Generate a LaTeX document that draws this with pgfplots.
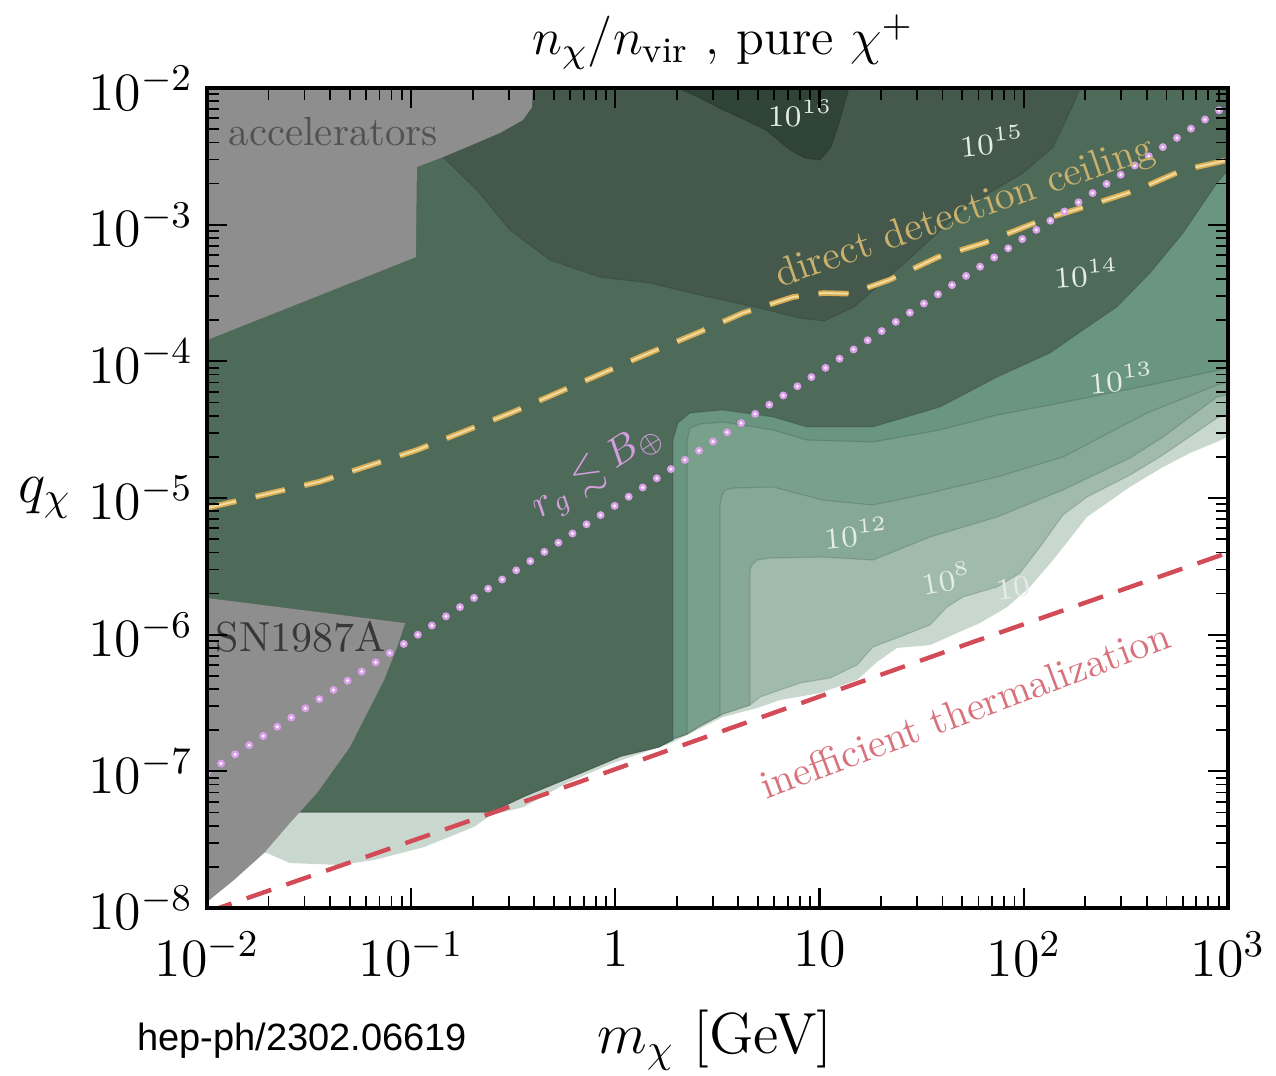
\RequirePackage{fix-cm}
\documentclass[border=0pt]{standalone}
\usepackage{amssymb}
\usepackage{pgfplots}
\pgfplotsset{compat=1.18}
\usepackage{fontspec}
\newfontfamily\hepfont{Liberation Sans}
\definecolor{c0}{RGB}{200,216,206}
\definecolor{c1}{RGB}{160,186,171}
\definecolor{c2}{RGB}{134,169,149}
\definecolor{c3}{RGB}{120,160,138}
\definecolor{c4}{RGB}{106,149,128}
\definecolor{c5}{RGB}{78,106,89}
\definecolor{c6}{RGB}{68,89,75}
\definecolor{c7}{RGB}{47,67,55}
\definecolor{grayreg}{RGB}{142,142,142}
\definecolor{goldline}{RGB}{218,173,84}
\definecolor{goldcore}{RGB}{240,220,160}
\definecolor{goldtext}{RGB}{201,176,108}
\definecolor{redline}{RGB}{210,75,87}
\definecolor{redtext}{RGB}{216,114,124}
\definecolor{violine}{RGB}{220,160,234}
\definecolor{viotext}{RGB}{213,157,223}
\definecolor{clab}{RGB}{228,236,230}
\begin{document}
\begin{tikzpicture}
\path[use as bounding box] (-51.75pt,-41.75pt) rectangle (267.25pt,227pt);
\begin{axis}[
  at={(0,0)}, anchor=south west,
  width=255.25pt, height=205pt, scale only axis,
  xmin=-2, xmax=3, ymin=-8, ymax=-2,
  axis on top,
  xtick={-2,-1,0,1,2,3},
  xticklabels={$10^{-2}$,$10^{-1}$,$1$,$10$,$10^{2}$,$10^{3}$},
  ytick={-8,-7,-6,-5,-4,-3,-2},
  yticklabels={$10^{-8}$,$10^{-7}$,$10^{-6}$,$10^{-5}$,$10^{-4}$,$10^{-3}$,$10^{-2}$},
  minor xtick={-1.69897,-1.52288,-1.39794,-1.30103,-1.22185,-1.15490,-1.09691,-1.04576,
    -0.69897,-0.52288,-0.39794,-0.30103,-0.22185,-0.15490,-0.09691,-0.04576,
    0.30103,0.47712,0.60206,0.69897,0.77815,0.84510,0.90309,0.95424,
    1.30103,1.47712,1.60206,1.69897,1.77815,1.84510,1.90309,1.95424,
    2.30103,2.47712,2.60206,2.69897,2.77815,2.84510,2.90309,2.95424},
  minor ytick={-7.69897,-7.52288,-7.39794,-7.30103,-7.22185,-7.15490,-7.09691,-7.04576,
    -6.69897,-6.52288,-6.39794,-6.30103,-6.22185,-6.15490,-6.09691,-6.04576,
    -5.69897,-5.52288,-5.39794,-5.30103,-5.22185,-5.15490,-5.09691,-5.04576,
    -4.69897,-4.52288,-4.39794,-4.30103,-4.22185,-4.15490,-4.09691,-4.04576,
    -3.69897,-3.52288,-3.39794,-3.30103,-3.22185,-3.15490,-3.09691,-3.04576,
    -2.69897,-2.52288,-2.39794,-2.30103,-2.22185,-2.15490,-2.09691,-2.04576},
  tick align=inside,
  major tick length=5pt, minor tick length=3pt,
  every tick/.style={black, line width=0.55pt},
  every minor tick/.style={black, line width=0.45pt},
  axis line style={line width=0.8pt},
  tick label style={font=\fontsize{13.5}{16}\selectfont},
  xticklabel style={yshift=-2.5pt},
  xlabel={$m_\chi$ [GeV]},
  xlabel style={at={(axis description cs:0.4976,-0.161)}, anchor=center, font=\fontsize{14.5}{17}\selectfont},
  ylabel={$q_\chi$},
  ylabel style={rotate=-90, at={(axis description cs:-0.1587,0.5)}, anchor=center, font=\fontsize{14.5}{17}\selectfont},
]
% lightest band (outer boundary, above white)
\addplot[fill=c0, draw=none] coordinates {
(-2,-2) (3,-2) (3,-4.554) (2.814,-4.671) (2.682,-4.773) (2.520,-4.919) (2.309,-5.139) (2.143,-5.454) (2.030,-5.651) (1.918,-5.798) (1.785,-5.915) (1.673,-5.988) (1.541,-6.076) (1.379,-6.097) (1.281,-6.200) (1.183,-6.332) (1.002,-6.427) (0.806,-6.478) (0.693,-6.537) (0.527,-6.602) (0.272,-6.793) (-0.012,-6.939) (-0.237,-7.085) (-0.448,-7.261) (-0.609,-7.319) (-0.693,-7.407) (-0.937,-7.554) (-1.182,-7.649) (-1.349,-7.685) (-1.594,-7.671) (-1.706,-7.598) (-2,-7.598)
} -- cycle;
% band 2
\addplot[fill=c1, draw=black, draw opacity=0.12, line width=0.3pt] coordinates {
(-2,-2) (3,-2) (3,-4.385) (2.946,-4.415) (2.682,-4.685) (2.520,-4.832) (2.309,-4.993) (2.192,-5.124) (2.079,-5.359) (1.981,-5.549) (1.869,-5.651) (1.702,-5.724) (1.624,-5.798) (1.541,-5.929) (1.379,-6.024) (1.261,-6.090) (1.183,-6.222) (1.051,-6.317) (0.904,-6.354) (0.806,-6.405) (0.708,-6.456) (0.659,-6.515) (0.527,-6.580) (0.414,-6.668) (0.351,-6.727) (0.292,-6.756) (0.213,-6.822) (0.027,-6.888) (-0.159,-7.005) (-0.443,-7.180) (-0.609,-7.297) (-2,-7.297)
} -- cycle;
% band 3
\addplot[fill=c2, draw=black, draw opacity=0.12, line width=0.3pt] coordinates {
(-2,-2) (3,-2) (3,-4.246) (2.946,-4.261) (2.682,-4.554) (2.520,-4.707) (2.192,-4.941) (1.869,-5.139) (1.541,-5.285) (1.261,-5.454) (1.017,-5.432) (0.757,-5.439) (0.693,-5.454) (0.669,-5.490) (0.659,-5.527) (0.659,-6.515) (0.527,-6.580) (0.414,-6.668) (0.351,-6.727) (0.292,-6.756) (0.213,-6.822) (0.027,-6.888) (-0.159,-7.005) (-0.443,-7.180) (-0.609,-7.297) (-2,-7.297)
} -- cycle;
% band 4
\addplot[fill=c3, draw=black, draw opacity=0.12, line width=0.3pt] coordinates {
(-2,-2) (3,-2) (3,-4.151) (2.946,-4.173) (2.603,-4.378) (2.192,-4.700) (1.869,-4.846) (1.541,-4.963) (1.261,-5.051) (1.017,-5.015) (0.772,-4.919) (0.576,-4.927) (0.537,-4.941) (0.522,-4.978) (0.512,-5.051) (0.512,-6.590) (0.414,-6.668) (0.351,-6.727) (0.292,-6.756) (0.213,-6.822) (0.027,-6.888) (-0.159,-7.005) (-0.443,-7.180) (-0.609,-7.297) (-2,-7.297)
} -- cycle;
% band 5
\addplot[fill=c4, draw=black, draw opacity=0.12, line width=0.3pt] coordinates {
(-2,-2) (3,-2) (3,-4.049) (2.618,-4.173) (2.373,-4.246) (2.128,-4.319) (1.869,-4.393) (1.590,-4.502) (1.261,-4.590) (0.938,-4.576) (0.772,-4.502) (0.527,-4.444) (0.414,-4.458) (0.365,-4.488) (0.351,-4.576) (0.351,-6.727) (0.292,-6.756) (0.213,-6.822) (0.027,-6.888) (-0.159,-7.005) (-0.443,-7.180) (-0.609,-7.297) (-2,-7.297)
} -- cycle;
% band 6 (main dark region)
\addplot[fill=c5, draw=black, draw opacity=0.12, line width=0.3pt] coordinates {
(-2,-2) (3,-2) (3,-2.600) (2.946,-2.695) (2.780,-3.061) (2.618,-3.354) (2.456,-3.602) (2.290,-3.771) (2.128,-3.939) (1.869,-4.115) (1.590,-4.334) (1.261,-4.480) (0.938,-4.480) (0.772,-4.407) (0.527,-4.356) (0.365,-4.378) (0.306,-4.451) (0.282,-4.576) (0.282,-6.771) (0.213,-6.822) (0.027,-6.888) (-0.159,-7.005) (-0.443,-7.180) (-0.609,-7.297) (-2,-7.297)
} -- cycle;
% band 7 (10^15)
\addplot[fill=c6, draw=black, draw opacity=0.12, line width=0.3pt] coordinates {
(-0.957,-2) (-0.844,-2.505) (-0.678,-2.746) (-0.516,-3.039) (-0.320,-3.259) (-0.076,-3.383) (0.169,-3.427) (0.414,-3.515) (0.684,-3.602) (0.904,-3.683) (1.021,-3.705) (1.168,-3.602) (1.433,-3.259) (1.712,-2.871) (1.996,-2.622) (2.143,-2.432) (2.236,-2.139) (2.275,-2)
} -- cycle;
% band 8 (10^16)
\addplot[fill=c7, draw=black, draw opacity=0.12, line width=0.3pt] coordinates {
(0.306,-2) (0.414,-2.073) (0.497,-2.139) (0.635,-2.234) (0.737,-2.307) (0.855,-2.454) (0.928,-2.512) (1.002,-2.527) (1.056,-2.432) (1.100,-2.234) (1.144,-2)
} -- cycle;
% accelerators
\addplot[fill=grayreg, draw=none] coordinates {
(-2,-2) (-0.404,-2) (-0.408,-2.139) (-0.453,-2.234) (-0.565,-2.329) (-0.727,-2.432) (-0.844,-2.505) (-0.972,-2.578) (-0.977,-3.237) (-2,-3.844)
} -- cycle;
% SN1987A
\addplot[fill=grayreg, draw=none] coordinates {
(-2,-5.732) (-1.030,-5.915) (-1.065,-6.076) (-1.133,-6.332) (-1.300,-6.822) (-1.461,-7.158) (-1.594,-7.378) (-1.721,-7.598) (-1.868,-7.795) (-2,-7.956)
} -- cycle;
% inefficient thermalization
\addplot[redline, line width=1.1pt, dash pattern=on 6.5pt off 4pt] coordinates {
(-2,-8.03) (-0.614,-7.31) (1.737,-6.061) (3,-5.40)
};
% direct detection ceiling
\addplot[goldline, line width=1.4pt, dash pattern=on 7.5pt off 5pt] coordinates {
(-2,-5.073) (-1.447,-4.880) (-0.972,-4.649) (-0.501,-4.371) (0.120,-3.968) (0.400,-3.793) (0.625,-3.646) (0.870,-3.529) (1.020,-3.500) (1.150,-3.505) (1.340,-3.405) (1.580,-3.237) (1.805,-3.134) (2.089,-2.966) (2.295,-2.871) (2.554,-2.746) (2.780,-2.600) (3,-2.527)
};
\addplot[goldcore, line width=0.5pt, dash pattern=on 7.5pt off 5pt] coordinates {
(-2,-5.073) (-1.447,-4.880) (-0.972,-4.649) (-0.501,-4.371) (0.120,-3.968) (0.400,-3.793) (0.625,-3.646) (0.870,-3.529) (1.020,-3.500) (1.150,-3.505) (1.340,-3.405) (1.580,-3.237) (1.805,-3.134) (2.089,-2.966) (2.295,-2.871) (2.554,-2.746) (2.780,-2.600) (3,-2.527)
};
% r_g < B line
\addplot[violine, line width=2pt, line cap=round, dash pattern=on 0pt off 4.2pt] coordinates {
(-2,-7.01) (3,-2.12)
};
\addplot[white, line width=0.8pt, line cap=round, dash pattern=on 0pt off 4.2pt] coordinates {
(-2,-7.01) (3,-2.12)
};
% region labels
\node[anchor=west, inner sep=0pt, text=black!68, font=\fontsize{10.2}{12}\selectfont] at (axis cs:-1.897,-2.315) {accelerators};
\node[anchor=west, inner sep=0pt, text=black!78, font=\fontsize{10.5}{12}\selectfont] at (axis cs:-1.961,-6.017) {SN1987A};
\node[rotate=19, text=goldtext, font=\fontsize{10}{12}\selectfont] at (axis cs:1.712,-2.915) {direct detection ceiling};
\node[rotate=20.5, text=redtext, font=\fontsize{10}{12}\selectfont] at (axis cs:1.712,-6.551) {inefficient thermalization};
\node[rotate=33, inner sep=0pt, text=viotext, font=\fontsize{10}{12}\selectfont] at (axis cs:-0.09,-4.80) {$r_g \lesssim B_\oplus$};
% contour labels
\node[text=clab, font=\fontsize{7.5}{9}\selectfont] at (axis cs:0.904,-2.183) {$10^{16}$};
\node[text=clab, rotate=5, font=\fontsize{7.5}{9}\selectfont] at (axis cs:1.844,-2.388) {$10^{15}$};
\node[text=clab, rotate=4, font=\fontsize{7.5}{9}\selectfont] at (axis cs:2.305,-3.354) {$10^{14}$};
\node[text=clab, rotate=5, font=\fontsize{7.5}{9}\selectfont] at (axis cs:2.476,-4.122) {$10^{13}$};
\node[text=clab, rotate=5, font=\fontsize{7.5}{9}\selectfont] at (axis cs:1.178,-5.256) {$10^{12}$};
\node[text=clab, rotate=10, font=\fontsize{7.5}{9}\selectfont] at (axis cs:1.619,-5.585) {$10^{8}$};
\node[text=clab, rotate=8, font=\fontsize{7.5}{9}\selectfont] at (axis cs:1.947,-5.659) {$10$};
\end{axis}
% title
\node[font=\fontsize{12.8}{15}\selectfont] at (129pt,216.5pt) {$n_\chi/n_{\rm vir}$ , pure $\chi^{+}$};
% source note
\node[font=\hepfont\fontsize{9.5}{11}\selectfont] at (23.75pt,-33.25pt) {hep-ph/2302.06619};
\end{tikzpicture}
\end{document}
